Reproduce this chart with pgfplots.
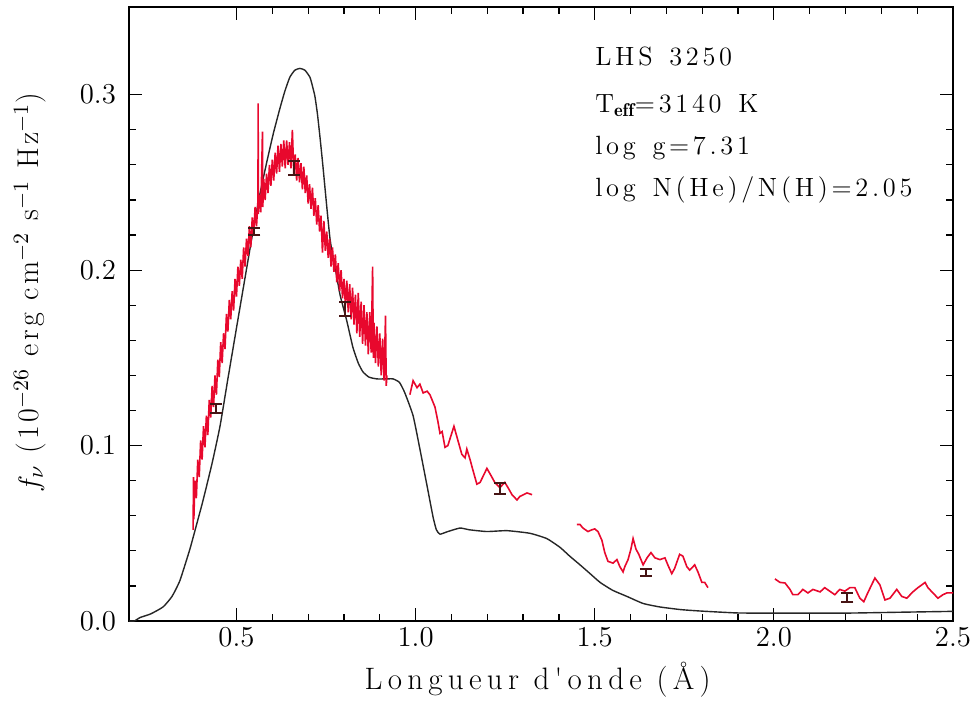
\documentclass[border=0pt]{standalone}
\usepackage{fontspec}
\usepackage{pgfplots}
\pgfplotsset{compat=1.18}
\definecolor{spec}{RGB}{232,8,45}
\definecolor{ebar}{RGB}{70,20,20}
\newfontfamily\spaced{Latin Modern Roman}[LetterSpace=14]
\newfontfamily\spacedl{Latin Modern Roman}[LetterSpace=17]
\newfontfamily\spacedy{Latin Modern Roman}[LetterSpace=11]
\begin{document}
\begin{tikzpicture}
\begin{axis}[
  scale only axis, width=412pt, height=307pt,
  xmin=0.2, xmax=2.5, ymin=0, ymax=0.35,
  xtick={0.5,1.0,1.5,2.0,2.5}, ytick={0,0.1,0.2,0.3},
  minor x tick num=4, minor y tick num=4,
  tick align=inside, xtick pos=both, ytick pos=both,
  major tick length=6.5pt, minor tick length=3.5pt,
  axis line style={line width=0.6pt}, every tick/.style={black, line width=0.6pt},
  tick label style={font=\fontsize{14}{16}\selectfont},
  xticklabel style={/pgf/number format/.cd, fixed, fixed zerofill, precision=1},
  yticklabel style={xshift=-3pt, /pgf/number format/.cd, fixed, fixed zerofill, precision=1},
  xlabel={Longueur d'onde (Å)},
  xlabel style={font=\spacedl\fontsize{15.5}{17}\selectfont, at={(axis description cs:0.496,-0.096)}, anchor=center},
  ylabel={$f_\nu$ (10$^{-26}$ erg cm$^{-2}$ s$^{-1}$ Hz$^{-1}$)},
  ylabel style={font=\spacedy\fontsize{15}{17}\selectfont, at={(axis description cs:-0.120,0.535)}, anchor=center},
  clip=true,
]
% model (black)
\addplot[black!85, line width=0.7pt, smooth, tension=0.3] coordinates {
(0.200,0.000) (0.215,0.000) (0.231,0.002) (0.260,0.004) (0.295,0.008) (0.320,0.014)
(0.342,0.023) (0.370,0.041) (0.390,0.056) (0.407,0.069) (0.432,0.090) (0.454,0.111)
(0.476,0.138) (0.500,0.167) (0.520,0.191) (0.546,0.222) (0.565,0.243) (0.585,0.262)
(0.603,0.278) (0.621,0.292) (0.635,0.302) (0.649,0.310) (0.663,0.314) (0.677,0.315)
(0.691,0.314) (0.705,0.310) (0.712,0.305) (0.719,0.299) (0.726,0.289) (0.733,0.276)
(0.740,0.262) (0.747,0.247) (0.754,0.232) (0.761,0.218) (0.768,0.209) (0.775,0.202)
(0.789,0.186) (0.808,0.171) (0.825,0.156) (0.840,0.147) (0.853,0.142) (0.870,0.139)
(0.892,0.138) (0.915,0.138) (0.937,0.138) (0.955,0.136) (0.970,0.130) (0.993,0.117)
(1.012,0.098) (1.032,0.077) (1.049,0.059) (1.058,0.052) (1.068,0.0495) (1.090,0.051)
(1.124,0.053) (1.150,0.052) (1.199,0.051) (1.255,0.0515) (1.319,0.050) (1.366,0.047)
(1.403,0.042) (1.430,0.037) (1.459,0.032) (1.487,0.027) (1.515,0.022) (1.550,0.0175)
(1.590,0.014) (1.635,0.010) (1.682,0.008) (1.740,0.0065) (1.794,0.0057) (1.897,0.0046)
(2.000,0.0045) (2.200,0.0045) (2.350,0.0050) (2.500,0.0055)
};
% optical spectrum
\addplot[spec, line width=0.8pt] coordinates {
(0.3790,0.052) (0.3800,0.082) (0.3810,0.058)
(0.384,0.080) (0.388,0.070) (0.392,0.092) (0.396,0.082) (0.400,0.103) (0.404,0.092)
(0.408,0.111) (0.412,0.099) (0.416,0.117) (0.420,0.106) (0.424,0.126) (0.428,0.116)
(0.432,0.134) (0.436,0.122) (0.440,0.140) (0.444,0.129) (0.448,0.149) (0.452,0.139)
(0.456,0.159) (0.460,0.147) (0.464,0.164) (0.468,0.155) (0.472,0.175) (0.476,0.165)
(0.480,0.183) (0.484,0.172) (0.488,0.188) (0.492,0.177) (0.496,0.195) (0.500,0.185)
(0.504,0.202) (0.508,0.191) (0.512,0.206) (0.516,0.195) (0.520,0.213) (0.524,0.202)
(0.528,0.218) (0.532,0.208) (0.536,0.225) (0.540,0.213) (0.544,0.230) (0.548,0.220)
(0.552,0.236) (0.556,0.225) (0.5600,0.240) (0.5605,0.295) (0.5610,0.232) (0.564,0.243)
(0.568,0.233) (0.5725,0.279) (0.5735,0.236) (0.576,0.252) (0.580,0.240) (0.584,0.255)
(0.588,0.244) (0.592,0.260) (0.596,0.248) (0.600,0.263) (0.604,0.251) (0.608,0.267)
(0.612,0.255) (0.616,0.271) (0.620,0.256) (0.624,0.272) (0.628,0.259) (0.632,0.274)
(0.636,0.258) (0.640,0.274) (0.644,0.260) (0.648,0.273) (0.652,0.258) (0.656,0.280)
(0.660,0.255) (0.664,0.266) (0.668,0.251) (0.672,0.264) (0.676,0.250) (0.680,0.261)
(0.684,0.246) (0.688,0.259) (0.692,0.244) (0.696,0.254) (0.700,0.238) (0.704,0.249)
(0.708,0.235) (0.712,0.247) (0.716,0.231) (0.720,0.241) (0.724,0.226) (0.728,0.237)
(0.732,0.222) (0.736,0.231) (0.740,0.210) (0.744,0.228) (0.748,0.211) (0.752,0.222)
(0.756,0.207) (0.760,0.218) (0.764,0.202) (0.768,0.213) (0.772,0.199) (0.776,0.209)
(0.780,0.193) (0.784,0.204) (0.788,0.188) (0.792,0.200) (0.796,0.184) (0.800,0.195)
(0.804,0.180) (0.808,0.194) (0.812,0.176) (0.816,0.192) (0.820,0.172) (0.824,0.190)
(0.828,0.169) (0.832,0.186) (0.836,0.164) (0.840,0.187) (0.844,0.162) (0.848,0.182)
(0.852,0.158) (0.856,0.180) (0.860,0.157) (0.864,0.176) (0.868,0.152) (0.872,0.176)
(0.876,0.153) (0.880,0.202) (0.882,0.150) (0.884,0.170) (0.888,0.147) (0.892,0.168)
(0.896,0.145) (0.900,0.164) (0.904,0.140) (0.908,0.161) (0.912,0.137) (0.916,0.174)
(0.918,0.134) (0.920,0.140)
};
% J band
\addplot[spec, line width=0.8pt] coordinates {
(0.984,0.129) (0.993,0.137) (1.004,0.133) (1.012,0.135) (1.021,0.130) (1.032,0.131)
(1.040,0.129) (1.054,0.122) (1.062,0.114) (1.068,0.107) (1.074,0.108) (1.082,0.099)
(1.090,0.100) (1.107,0.111) (1.118,0.103) (1.129,0.095) (1.138,0.093) (1.143,0.098)
(1.152,0.092) (1.160,0.086) (1.171,0.078) (1.180,0.079) (1.199,0.087) (1.213,0.082)
(1.221,0.079) (1.235,0.076) (1.249,0.079) (1.258,0.076) (1.269,0.072) (1.283,0.069)
(1.291,0.071) (1.311,0.073) (1.325,0.072)
};
% H band
\addplot[spec, line width=0.8pt] coordinates {
(1.450,0.055) (1.459,0.055) (1.467,0.053) (1.481,0.051) (1.492,0.052) (1.500,0.0525)
(1.509,0.051) (1.520,0.046) (1.528,0.039) (1.537,0.034) (1.551,0.033) (1.562,0.035)
(1.570,0.031) (1.579,0.028) (1.584,0.031) (1.593,0.035) (1.601,0.041) (1.607,0.047)
(1.615,0.041) (1.623,0.038) (1.635,0.032) (1.646,0.036) (1.657,0.039) (1.668,0.036)
(1.682,0.035) (1.696,0.036) (1.704,0.032) (1.715,0.027) (1.723,0.030) (1.737,0.038)
(1.746,0.037) (1.757,0.031) (1.765,0.029) (1.779,0.032) (1.788,0.028) (1.799,0.022)
(1.807,0.022) (1.816,0.019)
};
% K band
\addplot[spec, line width=0.8pt] coordinates {
(2.003,0.024) (2.017,0.022) (2.031,0.0217) (2.045,0.018) (2.053,0.015) (2.067,0.015)
(2.081,0.018) (2.095,0.016) (2.109,0.018) (2.129,0.0166) (2.142,0.019) (2.156,0.017)
(2.170,0.015) (2.184,0.018) (2.198,0.017) (2.212,0.019) (2.226,0.019) (2.240,0.013)
(2.251,0.011) (2.262,0.016) (2.282,0.0245) (2.296,0.0206) (2.310,0.012) (2.324,0.013)
(2.343,0.018) (2.357,0.014) (2.371,0.013) (2.388,0.0166) (2.402,0.019) (2.413,0.0206)
(2.422,0.022) (2.430,0.019) (2.444,0.016) (2.458,0.013) (2.472,0.015) (2.483,0.016)
(2.492,0.016) (2.500,0.016)
};
% photometry error bars
\addplot[ebar, only marks, mark size=0pt, error bars/.cd, y dir=both, y explicit,
  error bar style={line width=1pt, ebar}, error mark options={rotate=90, mark size=3pt, line width=1pt, ebar}]
coordinates {
(0.443,0.121) +- (0,0.0025)
(0.550,0.222) +- (0,0.002)
(0.660,0.258) +- (0,0.004)
(0.803,0.178) +- (0,0.004)
(1.235,0.0755) +- (0,0.003)
(1.643,0.0275) +- (0,0.002)
(2.205,0.0135) +- (0,0.0025)
};
\node[inner sep=0pt, anchor=base west, font=\spaced\fontsize{13.2}{15}\selectfont] at (rel axis cs:0.5655,0.9055) {LHS\, 3250};
\node[inner sep=0pt, anchor=base west, font=\spaced\fontsize{13.2}{15}\selectfont] at (rel axis cs:0.5655,0.829) {T$_{\mathbf{eff}}$=3140\, K};
\node[inner sep=0pt, anchor=base west, font=\spaced\fontsize{13.2}{15}\selectfont] at (rel axis cs:0.5655,0.759) {log\, g=7.31};
\node[inner sep=0pt, anchor=base west, font=\spaced\fontsize{13.2}{15}\selectfont] at (rel axis cs:0.5655,0.6906) {log\, N(He)/N(H)=2.05};
\end{axis}
\pgfresetboundingbox
\useasboundingbox ([shift={(-64.5pt,-40.5pt)}]current axis.south west) rectangle ([shift={(10.5pt,3.5pt)}]current axis.north east);
\end{tikzpicture}
\end{document}
